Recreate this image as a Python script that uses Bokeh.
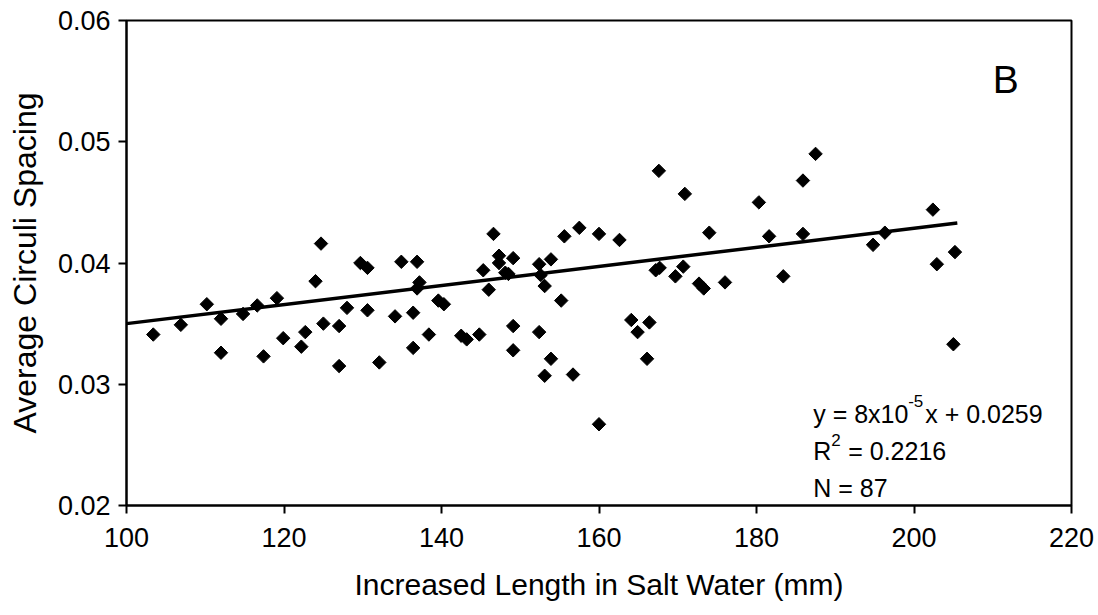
from bokeh.plotting import figure
from bokeh.models import Label, FixedTicker, PrintfTickFormatter, ColumnDataSource
from bokeh.embed import file_html
from bokeh.resources import INLINE
import numpy as np

# Data
length_mm = [103.4, 106.9, 110.2, 112.0, 112.0, 114.8, 116.6, 117.4, 119.1, 119.9,
             122.2, 122.7, 124.0, 124.7, 125.0, 127.0, 127.0, 128.0, 129.7, 130.6,
             130.6, 132.1, 134.1, 134.9, 136.4, 136.4, 136.9, 137.2, 136.9, 138.4,
             139.6, 140.3, 142.5, 143.2, 144.8, 145.3, 146.0, 146.6, 147.3, 147.3,
             148.1, 148.5, 149.1, 149.1, 149.1, 152.4, 152.6, 153.1, 152.4, 153.9,
             153.9, 153.1, 155.2, 155.6, 156.7, 157.5, 160.0, 160.0, 162.6, 164.1,
             164.9, 166.4, 166.1, 167.6, 167.2, 167.7, 169.7, 170.7, 170.9, 172.7,
             173.3, 174.0, 176.0, 180.3, 181.6, 183.4, 185.9, 185.9, 187.5, 194.8,
             196.3, 202.4, 202.9, 205.2, 205.0]
spacing = [0.0341, 0.0349, 0.0366, 0.0354, 0.0326, 0.0358, 0.0365, 0.0323, 0.0371, 0.0338,
           0.0331, 0.0343, 0.0385, 0.0416, 0.0350, 0.0348, 0.0315, 0.0363, 0.0400, 0.0396,
           0.0361, 0.0318, 0.0356, 0.0401, 0.0359, 0.0330, 0.0401, 0.0384, 0.0379, 0.0341,
           0.0369, 0.0366, 0.0340, 0.0337, 0.0341, 0.0394, 0.0378, 0.0424, 0.0406, 0.0400,
           0.0392, 0.0391, 0.0404, 0.0348, 0.0328, 0.0399, 0.0390, 0.0381, 0.0343, 0.0403,
           0.0321, 0.0307, 0.0369, 0.0422, 0.0308, 0.0429, 0.0424, 0.0267, 0.0419, 0.0353,
           0.0343, 0.0351, 0.0321, 0.0476, 0.0394, 0.0396, 0.0389, 0.0397, 0.0457, 0.0383,
           0.0379, 0.0425, 0.0384, 0.0450, 0.0422, 0.0389, 0.0424, 0.0468, 0.0490, 0.0415,
           0.0425, 0.0444, 0.0399, 0.0409, 0.0333]
trend_x = [100.0, 205.5]
trend_y = [0.0350, 0.0433]
x_ticks = [100, 120, 140, 160, 180, 200, 220]
y_ticks = [0.02, 0.03, 0.04, 0.05, 0.06]

FONT = "Liberation Sans"

p = figure(width=1098, height=615, x_range=(100, 220), y_range=(0.02, 0.06),
           output_backend="svg", toolbar_location=None,
           min_border_left=126, min_border_right=27, min_border_top=20, min_border_bottom=110)
p.background_fill_color = "white"
p.border_fill_color = "white"
p.outline_line_color = "black"
p.outline_line_width = 2
p.xgrid.visible = False
p.ygrid.visible = False

for ax in (p.xaxis[0], p.yaxis[0]):
    ax.axis_line_width = 2
    ax.axis_line_color = "black"
    ax.major_tick_line_width = 2
    ax.major_tick_line_color = "black"
    ax.major_tick_in = 0
    ax.major_tick_out = 8
    ax.minor_tick_line_color = None
    ax.major_label_text_font = FONT
    ax.major_label_text_font_size = "27px"
    ax.major_label_text_color = "black"
    ax.axis_label_text_font = FONT
    ax.axis_label_text_font_style = "normal"
    ax.axis_label_text_color = "black"

p.xaxis.axis_label_text_font_size = "30px"
p.yaxis.axis_label_text_font_size = "32px"
p.xaxis.ticker = FixedTicker(ticks=x_ticks)
p.yaxis.ticker = FixedTicker(ticks=y_ticks)
p.yaxis.formatter = PrintfTickFormatter(format="%.2f")
p.xaxis.axis_label = "Increased Length in Salt Water (mm)"
p.yaxis.axis_label = "Average Circuli Spacing"
p.xaxis.major_label_standoff = 14
p.xaxis.axis_label_standoff = 18
p.yaxis.major_label_standoff = 8
p.yaxis.axis_label_standoff = 12

src = ColumnDataSource(dict(x=length_mm, y=spacing))
p.scatter("x", "y", source=src, marker="square", size=9.5, angle=np.pi / 4,
          fill_color="black", line_color="black")
p.line(trend_x, trend_y, line_color="black", line_width=3.5)

def lab(x, y, text, size, xoff=0, yoff=0):
    p.add_layout(Label(x=x, y=y, text=text, x_offset=xoff, y_offset=yoff,
                       text_font=FONT, text_font_size=size, text_color="black",
                       text_baseline="alphabetic", text_align="left"))

lab(210.0, 0.05515, "B", "39px")
ex = 187.2
lab(ex, 0.02758, "y = 8x10", "25px")
lab(ex, 0.02758, "-5", "17px", xoff=95, yoff=13)
lab(ex, 0.02758, "x + 0.0259", "25px", xoff=112)
lab(ex, 0.02453, "R", "25px")
lab(ex, 0.02453, "2", "17px", xoff=18, yoff=11)
lab(ex, 0.02453, "= 0.2216", "25px", xoff=35)
lab(ex, 0.02148, "N = 87", "25px")

open("out.html", "w").write(file_html(p, INLINE))
